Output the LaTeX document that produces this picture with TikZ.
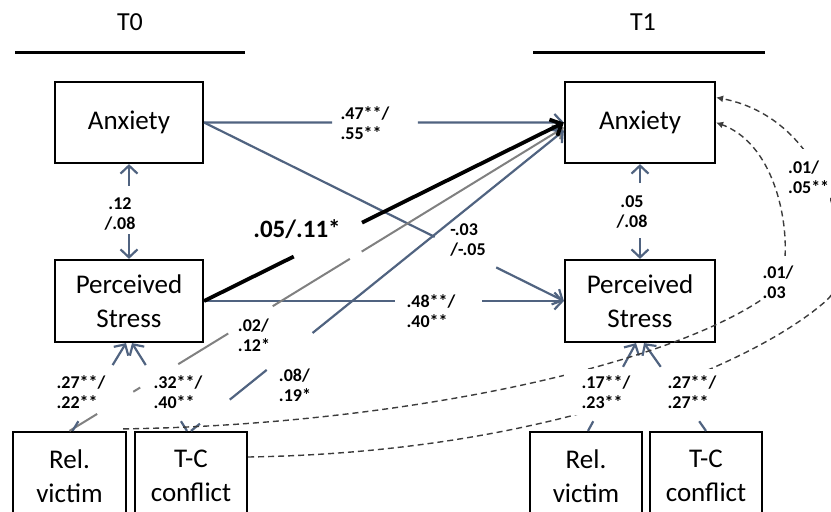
\documentclass[tikz,border=0pt]{standalone}
\usepackage{fontspec}
\setmainfont{Carlito}
\usetikzlibrary{arrows.meta,calc}
\definecolor{slate}{RGB}{80,99,128}
\definecolor{midgray}{RGB}{128,128,128}
\definecolor{dashc}{RGB}{60,60,60}
\begin{document}
\begin{tikzpicture}[x=1pt,y=-1pt,
  box/.style={draw=black,line width=2.2pt,minimum width=148pt,minimum height=81pt,inner sep=0pt,
    font=\fontsize{27}{34}\selectfont,align=center},
  sbox/.style={box,minimum width=112pt,minimum height=88pt},
  ttl/.style={font=\fontsize{26}{30}\selectfont,inner sep=0pt},
  rule/.style={line width=3pt},
  lab/.style={font=\fontsize{18}{20}\selectfont\bfseries,inner sep=1pt,align=left},
  mask/.style={fill=white},
  bigl/.style={font=\fontsize{25}{28}\selectfont\bfseries,inner sep=1pt},
  conn/.style={draw=slate,line width=2.2pt,-{Straight Barb[length=8pt,width=17pt]}},
  thick conn/.style={draw=black,line width=3.8pt,-{Straight Barb[length=9pt,width=18pt]}},
  gconn/.style={draw=midgray,line width=2pt,-{Straight Barb[length=8pt,width=16pt]}},
  dsh/.style={draw=dashc,line width=1.4pt,dash pattern=on 6pt off 4pt,-{Latex[length=7pt,width=7pt]}}
]
\useasboundingbox (0,0) rectangle (831,512);

% titles
\node[ttl] (t0) at (130,22) {T0};
\node[ttl] (t1) at (643,22) {T1};
\coordinate (r0l) at (15,52); \coordinate (r0r) at (245,52);
\coordinate (r1l) at (533,52); \coordinate (r1r) at (765,52);
\draw[rule] (r0l) -- (r0r);
\draw[rule] (r1l) -- (r1r);

% boxes
\node[box] (anx0) at (129,122.5) {Anxiety};
\node[box,minimum height=82pt] (ps0) at (129,301) {Perceived\\Stress};
\node[box,minimum width=150pt] (anx1) at (640,122.5) {Anxiety};
\node[box,minimum width=150pt,minimum height=82pt] (ps1) at (640,301) {Perceived\\Stress};
\node[sbox,minimum width=113pt] (rel0) at (69.5,476) {Rel.\\victim};
\node[sbox] (tc0) at (191,476) {T-C\\conflict};
\node[sbox] (rel1) at (586,476) {Rel.\\victim};
\node[sbox] (tc1) at (706,476) {T-C\\conflict};

% helper coordinates
\coordinate (r0a) at ([xshift=3pt]rel0.north);
\coordinate (p0a) at ([xshift=-3pt]ps0.south);
\coordinate (t0a) at ([xshift=-4pt]tc0.north);
\coordinate (p0b) at ([xshift=3pt]ps0.south);
\coordinate (r1a) at ([xshift=2pt]rel1.north);
\coordinate (p1a) at ([xshift=-4pt]ps1.south);
\coordinate (t1a) at (tc1.north);
\coordinate (p1b) at ([xshift=4pt]ps1.south);
\coordinate (a1g) at ([yshift=-5pt]anx1.west);
\coordinate (a1b) at ([yshift=-8pt]anx1.west);
\coordinate (a1u) at ([yshift=25pt]anx1.east);
\coordinate (t0d) at ([yshift=19pt]tc0.east);
\coordinate (r0d) at ([xshift=-4pt,yshift=2pt]rel0.north east);

% autoregressive and cross-lagged paths
\draw[conn] (anx0.east) -- ($(anx0.east)!0.356!(anx1.west)$) ($(anx0.east)!0.594!(anx1.west)$) -- (anx1.west);
\draw[conn] (anx0.east) -- ($(anx0.east)!0.641!(ps1.west)$) ($(anx0.east)!0.812!(ps1.west)$) -- (ps1.west);
\draw[conn] (ps0.east) -- ($(ps0.east)!0.530!(ps1.west)$) ($(ps0.east)!0.773!(ps1.west)$) -- (ps1.west);
\draw[gconn] (rel0.north) -- ($(rel0.north)!0.056!(a1g)$)
  ($(rel0.north)!0.129!(a1g)$) -- ($(rel0.north)!0.143!(a1g)$)
  ($(rel0.north)!0.220!(a1g)$) -- ($(rel0.north)!0.321!(a1g)$)
  ($(rel0.north)!0.411!(a1g)$) -- ($(rel0.north)!0.567!(a1g)$)
  ($(rel0.north)!0.591!(a1g)$) -- (a1g);
\draw[conn] (tc0.north) -- ($(tc0.north)!0.024!(a1b)$)
  ($(tc0.north)!0.104!(a1b)$) -- ($(tc0.north)!0.203!(a1b)$)
  ($(tc0.north)!0.326!(a1b)$) -- (a1b);
\draw[thick conn] (ps0.east) -- ($(ps0.east)!0.249!(anx1.west)$) ($(ps0.east)!0.439!(anx1.west)$) -- (anx1.west);

% within-time correlations (double-headed, broken for the label)
\draw[conn] ($(anx0.south)!0.227!(ps0.north)$) -- (anx0.south);
\draw[conn] ($(anx0.south)!0.742!(ps0.north)$) -- (ps0.north);
\draw[conn] ($(anx1.south)!0.2!(ps1.north)$) -- (anx1.south);
\draw[conn] ($(anx1.south)!0.78!(ps1.north)$) -- (ps1.north);

% predictors to stress
\draw[conn] (r0a) -- ($(r0a)!0.11!(p0a)$) ($(r0a)!0.75!(p0a)$) -- (p0a);
\draw[conn] (t0a) -- ($(t0a)!0.11!(p0b)$) ($(t0a)!0.75!(p0b)$) -- (p0b);
\draw[conn] (r1a) -- ($(r1a)!0.11!(p1a)$) ($(r1a)!0.73!(p1a)$) -- (p1a);
\draw[conn] (t1a) -- ($(t1a)!0.11!(p1b)$) ($(t1a)!0.73!(p1b)$) -- (p1b);

% dashed paths to T1 anxiety
\draw[dsh] (r0d) .. controls (400,425) and (680,365) .. (775,290)
  .. controls (795,274) and (790,150) .. (anx1.east);
\draw[dsh] (t0d) .. controls (560,452) and (760,360) .. (827,300)
  .. controls (860,270) and (835,120) .. (a1u);

% labels
\node[lab] (l1) at (365,123) {.47**/\\.55**};
\node[lab,align=center] (l2) at (120,214) {.12\\/.08};
\node[lab,align=center] (l3) at (632,212) {.05\\/.08};
\node[lab] (l4) at (468,240) {-.03\\/-.05};
\node[lab] (l5) at (431,311) {.48**/\\.40**};
\node[bigl] (l6) at (297,229) {.05/.11*};
\node[lab] (l7) at (254,335) {.02/\\.12*};
\node[lab] (l8) at (295,385) {.08/\\.19*};
\node[lab] (l9) at (81,392) {.27**/\\.22**};
\node[lab] (l10) at (178,392) {.32**/\\.40**};
\node[lab,mask,minimum width=84pt,minimum height=46pt] (l11) at (606,392) {.17**/\\.23**};
\node[lab,mask,minimum width=84pt,minimum height=46pt] (l12) at (692,392) {.27**/\\.27**};
\node[lab,mask,minimum height=52pt] (l13) at (778,282) {.01/\\.03};
\node[lab,mask,minimum height=56pt,anchor=west] (l14) at (787,177) {.01/\\.05**};
\end{tikzpicture}
\end{document}
